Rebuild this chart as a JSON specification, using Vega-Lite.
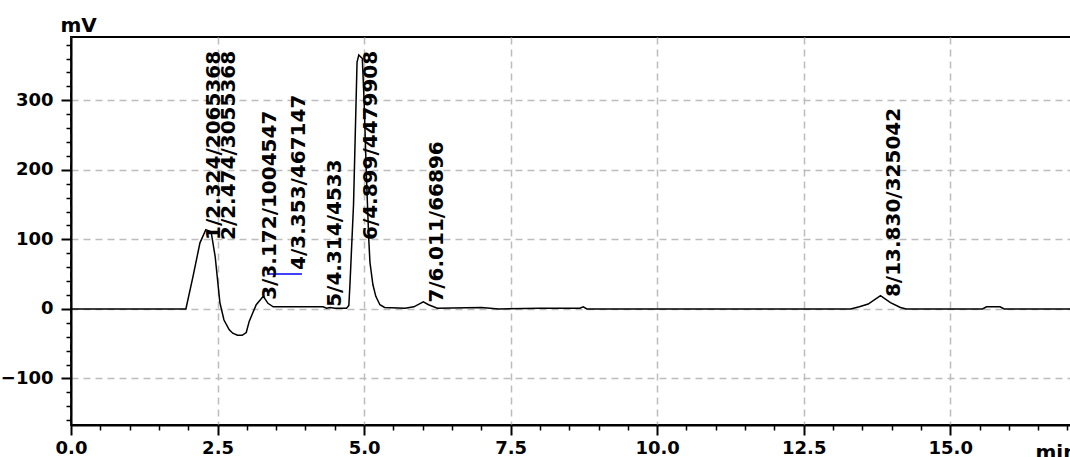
{
  "$schema": "https://vega.github.io/schema/vega-lite/v6.json",
  "width": 1000,
  "height": 388,
  "autosize": {"type": "none"},
  "padding": {"left": 71, "top": 37, "right": 0, "bottom": 32},
  "background": "white",
  "config": {
    "view": {"stroke": "black", "strokeWidth": 2},
    "font": "DejaVu Sans"
  },
  "datasets": {
    "trace": [
      {"t": 0, "mV": 0}, {"t": 1.96, "mV": 0}, {"t": 2.08, "mV": 46}, {"t": 2.2, "mV": 95},
      {"t": 2.3, "mV": 114}, {"t": 2.39, "mV": 111}, {"t": 2.46, "mV": 75}, {"t": 2.54, "mV": 9},
      {"t": 2.61, "mV": -16}, {"t": 2.7, "mV": -30}, {"t": 2.76, "mV": -35}, {"t": 2.84, "mV": -38},
      {"t": 2.92, "mV": -38}, {"t": 2.99, "mV": -34}, {"t": 3.04, "mV": -18}, {"t": 3.1, "mV": -6},
      {"t": 3.16, "mV": 6}, {"t": 3.22, "mV": 12}, {"t": 3.28, "mV": 18}, {"t": 3.36, "mV": 8},
      {"t": 3.45, "mV": 3}, {"t": 4.3, "mV": 3}, {"t": 4.36, "mV": 1}, {"t": 4.42, "mV": 2},
      {"t": 4.5, "mV": 1}, {"t": 4.7, "mV": 1}, {"t": 4.74, "mV": 5}, {"t": 4.76, "mV": 37},
      {"t": 4.82, "mV": 150}, {"t": 4.88, "mV": 355}, {"t": 4.91, "mV": 365}, {"t": 4.97, "mV": 360},
      {"t": 5.0, "mV": 300}, {"t": 5.04, "mV": 190}, {"t": 5.08, "mV": 100}, {"t": 5.1, "mV": 67},
      {"t": 5.15, "mV": 35}, {"t": 5.2, "mV": 18}, {"t": 5.27, "mV": 6}, {"t": 5.35, "mV": 2},
      {"t": 5.7, "mV": 1}, {"t": 5.85, "mV": 3}, {"t": 6.01, "mV": 10}, {"t": 6.1, "mV": 6},
      {"t": 6.25, "mV": 1}, {"t": 7.0, "mV": 2}, {"t": 7.3, "mV": 0}, {"t": 8.0, "mV": 1},
      {"t": 8.68, "mV": 1}, {"t": 8.74, "mV": 3}, {"t": 8.8, "mV": 0}, {"t": 13.3, "mV": 0},
      {"t": 13.45, "mV": 3}, {"t": 13.6, "mV": 7}, {"t": 13.81, "mV": 19}, {"t": 13.98, "mV": 9},
      {"t": 14.15, "mV": 2}, {"t": 14.25, "mV": 0}, {"t": 15.55, "mV": 0}, {"t": 15.62, "mV": 3},
      {"t": 15.85, "mV": 3}, {"t": 15.92, "mV": 0}, {"t": 17.06, "mV": 0}
    ],
    "peaks": [
      {"t": 2.44, "mV": 99, "label": "1/2.324/2065368"},
      {"t": 2.7, "mV": 99, "label": "2/2.474/3055368"},
      {"t": 3.4, "mV": 13, "label": "3/3.172/1004547"},
      {"t": 3.89, "mV": 56, "label": "4/3.353/467147"},
      {"t": 4.51, "mV": 3, "label": "5/4.314/4533"},
      {"t": 5.12, "mV": 99, "label": "6/4.899/4479908"},
      {"t": 6.25, "mV": 9, "label": "7/6.011/66896"},
      {"t": 14.04, "mV": 17, "label": "8/13.830/325042"}
    ],
    "base": [
      {"t0": 3.36, "t1": 3.94, "mV": 50}
    ]
  },
  "layer": [
    {
      "data": {"name": "trace"},
      "mark": {"type": "line", "color": "black", "strokeWidth": 1.5},
      "encoding": {
        "x": {
          "field": "t", "type": "quantitative",
          "scale": {"domain": [0, 17.06], "nice": false, "zero": false},
          "axis": {
            "orient": "bottom",
            "values": [0, 2.5, 5, 7.5, 10, 12.5, 15],
            "format": ".1f",
            "grid": true, "gridColor": "#bdbdbd", "gridDash": [7, 5], "gridWidth": 1.5,
            "domainColor": "black", "domainWidth": 2,
            "tickColor": "black", "tickSize": 10, "tickWidth": 2,
            "labelFont": "DejaVu Sans", "labelFontWeight": "bold", "labelFontSize": 18,
            "labelColor": "black", "labelPadding": 4, "labelFlush": false,
            "title": "min", "titleX": 964, "titleY": 33, "titleAlign": "left",
            "titleBaseline": "alphabetic", "titleFont": "DejaVu Sans",
            "titleFontSize": 20, "titleFontWeight": "bold", "titleColor": "black"
          }
        },
        "y": {
          "field": "mV", "type": "quantitative",
          "scale": {"domain": [-167, 391], "nice": false, "zero": false},
          "axis": {
            "orient": "left",
            "values": [-100, 0, 100, 200, 300],
            "grid": true, "gridColor": "#bdbdbd", "gridDash": [7, 5], "gridWidth": 1.5,
            "domainColor": "black", "domainWidth": 2,
            "tickColor": "black", "tickSize": 10, "tickWidth": 2,
            "labelFont": "DejaVu Sans", "labelFontWeight": "bold", "labelFontSize": 18,
            "labelColor": "black", "labelPadding": 8, "labelFlush": false,
            "title": "mV", "titleAngle": 0, "titleX": -11, "titleY": -6,
            "titleAlign": "left", "titleBaseline": "alphabetic", "titleFont": "DejaVu Sans",
            "titleFontSize": 20, "titleFontWeight": "bold", "titleColor": "black"
          }
        }
      }
    },
    {
      "data": {"name": "trace"},
      "mark": {"type": "point", "opacity": 0},
      "encoding": {
        "x": {
          "field": "t", "type": "quantitative",
          "axis": {
            "orient": "bottom",
            "values": [0.5, 1, 1.5, 2, 3, 3.5, 4, 4.5, 5.5, 6, 6.5, 7, 8, 8.5, 9, 9.5, 10.5, 11, 11.5, 12, 13, 13.5, 14, 14.5, 15.5, 16, 16.5, 17],
            "labels": false, "grid": false, "domain": false,
            "tickColor": "black", "tickSize": 5, "tickWidth": 1.5, "title": null
          }
        },
        "y": {
          "field": "mV", "type": "quantitative",
          "axis": {
            "orient": "left",
            "values": [-160, -140, -120, -80, -60, -40, -20, 20, 40, 60, 80, 120, 140, 160, 180, 220, 240, 260, 280, 320, 340, 360, 380],
            "labels": false, "grid": false, "domain": false,
            "tickColor": "black", "tickSize": 5, "tickWidth": 1.5, "title": null
          }
        }
      }
    },
    {
      "data": {"name": "base"},
      "mark": {"type": "rule", "color": "#0000ff", "strokeWidth": 1.5},
      "encoding": {
        "x": {"field": "t0", "type": "quantitative", "axis": null},
        "x2": {"field": "t1"},
        "y": {"field": "mV", "type": "quantitative", "axis": null}
      }
    },
    {
      "data": {"name": "peaks"},
      "mark": {
        "type": "text", "angle": 270, "align": "left", "baseline": "middle",
        "font": "DejaVu Sans", "fontWeight": "bold", "fontSize": 20, "color": "black"
      },
      "encoding": {
        "x": {"field": "t", "type": "quantitative", "axis": null},
        "y": {"field": "mV", "type": "quantitative", "axis": null},
        "text": {"field": "label"}
      }
    }
  ],
  "resolve": {"axis": {"x": "independent", "y": "independent"}}
}
